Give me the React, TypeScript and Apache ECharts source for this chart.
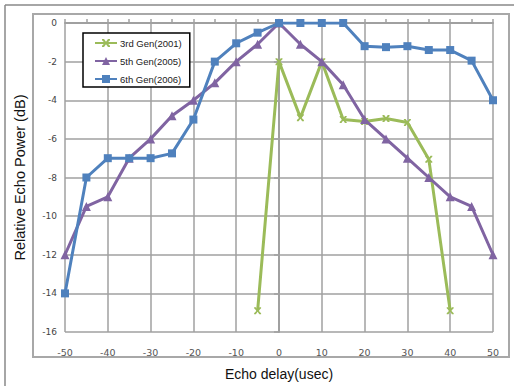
import React, { useEffect, useRef } from "react";
import * as echarts from "echarts";

const delays = [-50, -45, -40, -35, -30, -25, -20, -15, -10, -5, 0, 5, 10, 15, 20, 25, 30, 35, 40, 45, 50];
const gen3Delays = [-5, 0, 5, 10, 15, 20, 25, 30, 35, 40];
const gen3 = [-14.9, -2, -4.9, -2, -5, -5.1, -4.95, -5.15, -7.05, -14.9];
const gen5 = [-12, -9.5, -9, -7, -6, -4.8, -4, -3.1, -2, -1.1, 0, -1.1, -2, -3.2, -5, -6, -7, -8, -9, -9.5, -12];
const gen6 = [-14, -8, -7, -7, -7, -6.75, -5, -2, -1.05, -0.5, 0, 0, 0, 0, -1.2, -1.25, -1.2, -1.4, -1.4, -1.95, -4];
const seriesNames = ["3rd Gen(2001)", "5th Gen(2005)", "6th Gen(2006)"];

const GREEN = "#9BBB59";
const PURPLE = "#8064A2";
const BLUE = "#4F81BD";
const XMARK = "path://M0,0 L2.5,0 L5,3.5 L7.5,0 L10,0 L10,1.5 L6.5,5 L10,8.5 L10,10 L7.5,10 L5,6.5 L2.5,10 L0,10 L0,8.5 L3.5,5 L0,1.5 Z";

export default function App() {
  const ref = useRef<HTMLDivElement>(null);
  useEffect(() => {
    const chart = echarts.init(ref.current!, undefined, { renderer: "svg" });
    const zip = (xs: number[], ys: number[]) => xs.map((x, i) => [x, ys[i]]);
    chart.setOption({
      animation: false,
      backgroundColor: "#ffffff",
      grid: { left: 65, right: 21, top: 23, bottom: 53, containLabel: false },
      legend: {
        orient: "vertical",
        left: 83,
        top: 33,
        padding: [5, 8, 3, 11],
        itemGap: 8,
        itemWidth: 22,
        itemHeight: 10,
        borderColor: "#000",
        borderWidth: 1.5,
        backgroundColor: "#fff",
        data: seriesNames,
        textStyle: { fontFamily: "Liberation Sans", fontSize: 9.5, color: "#222", padding: [0, 0, 0, -2] },
      },
      xAxis: {
        type: "value",
        min: -50,
        max: 50,
        interval: 10,
        name: "Echo delay(usec)",
        nameLocation: "middle",
        nameGap: 35,
        nameTextStyle: { fontFamily: "Liberation Sans", fontSize: 14, color: "#111" },
        axisLine: { show: true, lineStyle: { color: "#a0a0a0", width: 2 } },
        axisTick: { show: true, inside: true, length: 4, lineStyle: { color: "#a0a0a0", width: 1.5 } },
        minorTick: { show: true, splitNumber: 2, length: 4, lineStyle: { color: "#a0a0a0", width: 1.5 } },
        axisLabel: { fontFamily: "DejaVu Sans", fontSize: 9.5, color: "#555", margin: 15 },
        splitLine: { show: true, lineStyle: { color: "#a0a0a0", width: 1.5 } },
      },
      yAxis: {
        type: "value",
        min: -16,
        max: 0,
        interval: 2,
        name: "Relative Echo Power (dB)",
        nameLocation: "middle",
        nameGap: 38,
        nameTextStyle: { fontFamily: "Liberation Sans", fontSize: 14.5, color: "#111" },
        axisLine: { show: true, lineStyle: { color: "#a0a0a0", width: 2 } },
        axisTick: { show: true, inside: false, length: 5, lineStyle: { color: "#a0a0a0", width: 1.5 } },
        axisLabel: { fontFamily: "DejaVu Sans", fontSize: 9, color: "#444", margin: 8 },
        splitLine: { show: true, lineStyle: { color: "#a0a0a0", width: 1.5 } },
      },
      graphic: [
        { type: "line", shape: { x1: 5, y1: 5, x2: 514, y2: 5 }, style: { stroke: "#888", lineWidth: 1.5 }, z: 0 },
        { type: "line", shape: { x1: 5, y1: 5, x2: 5, y2: 386 }, style: { stroke: "#888", lineWidth: 1.5 }, z: 0 },
        { type: "rect", shape: { x: 33, y: 14, width: 476, height: 343 }, style: { fill: "none", stroke: "#a8a8a8", lineWidth: 2 }, z: 0 },
      ],
      series: [
        {
          name: seriesNames[0],
          type: "line",
          data: zip(gen3Delays, gen3),
          symbol: XMARK,
          symbolSize: 7,
          lineStyle: { color: GREEN, width: 3 },
          itemStyle: { color: GREEN },
          z: 2,
        },
        {
          name: seriesNames[1],
          type: "line",
          data: zip(delays, gen5),
          symbol: "triangle",
          symbolSize: 9,
          lineStyle: { color: PURPLE, width: 3 },
          itemStyle: { color: PURPLE },
          z: 3,
        },
        {
          name: seriesNames[2],
          type: "line",
          data: zip(delays, gen6),
          symbol: "rect",
          symbolSize: 8,
          lineStyle: { color: BLUE, width: 3 },
          itemStyle: { color: BLUE },
          z: 4,
        },
      ],
    });
    return () => chart.dispose();
  }, []);
  return <div ref={ref} style={{ position: "fixed", left: 0, top: 0, width: 514, height: 386 }} />;
}
